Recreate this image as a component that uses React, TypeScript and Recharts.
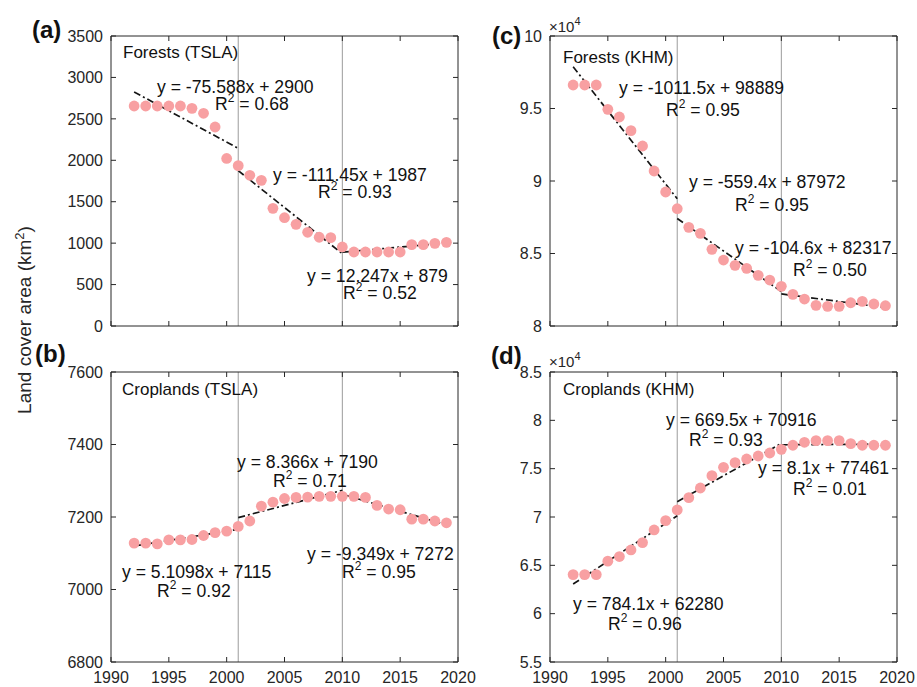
import React from 'react'
import { ComposedChart, Scatter, XAxis, YAxis, ReferenceLine } from 'recharts'

const years = [
  1992, 1993, 1994, 1995, 1996, 1997, 1998, 1999, 2000, 2001, 2002, 2003, 2004, 2005,
  2006, 2007, 2008, 2009, 2010, 2011, 2012, 2013, 2014, 2015, 2016, 2017, 2018, 2019,
]

// km2
const forestsTSLA = [
  2655, 2655, 2655, 2655, 2655, 2627, 2567, 2402, 2022, 1935, 1819, 1758, 1420, 1307,
  1227, 1131, 1071, 1066, 954, 893, 893, 893, 893, 893, 982, 982, 998, 1010,
]
const croplandsTSLA = [
  7128, 7128, 7126, 7137, 7137, 7138, 7149, 7157, 7161, 7174, 7189, 7230, 7241, 7251,
  7254, 7255, 7257, 7257, 7257, 7257, 7254, 7232, 7222, 7220, 7194, 7194, 7189, 7184,
]
const forestsKHM = [
  96620, 96620, 96620, 94944, 94414, 93470, 92413, 90690, 89240, 88090, 86805, 86390, 85287, 84550,
  84184, 83977, 83494, 83170, 82735, 82183, 81859, 81425, 81356, 81356, 81605, 81701, 81517, 81400,
]
const croplandsKHM = [
  64040, 64040, 64040, 65430, 65910, 66590, 67350, 68660, 69620, 70730, 72000, 73000, 74280, 75140,
  75620, 76000, 76310, 76620, 77000, 77420, 77730, 77900, 77900, 77900, 77590, 77420, 77420, 77420,
]

// piecewise fits, x = 1..10 inside each segment
const breakYears = [2001, 2010]
const segmentStarts = [1992, 2001, 2010]
const segmentEnds = [2001, 2010, 2019]

const slopesA = [-75.588, -111.45, 12.247]
const interceptsA = [2900, 1987, 879]
const r2A = ['0.68', '0.93', '0.52']
const slopesB = [5.1098, 8.366, -9.349]
const interceptsB = [7115, 7190, 7272]
const r2B = ['0.92', '0.71', '0.95']
const slopesC = [-1011.5, -559.4, -104.6]
const interceptsC = [98889, 87972, 82317]
const r2C = ['0.95', '0.95', '0.50']
const slopesD = [784.1, 669.5, 8.1]
const interceptsD = [62280, 70916, 77461]
const r2D = ['0.96', '0.93', '0.01']

const xDomain: [number, number] = [1990, 2020]
const xTicks = [1990, 1995, 2000, 2005, 2010, 2015, 2020]
const yTicksA = [0, 500, 1000, 1500, 2000, 2500, 3000, 3500]
const yTicksB = [6800, 7000, 7200, 7400, 7600]
const yTicksC = [80000, 85000, 90000, 95000, 100000]
const yTicksD = [55000, 60000, 65000, 70000, 75000, 80000, 85000]

const FONT = '"Liberation Sans", Arial, Helvetica, sans-serif'
const INK = '#262626'
const PINK = '#F8A0A2'
const PLOT_W = 347
const PLOT_H = 290
const TICK_PX = 5

function Dot(props: any) {
  const { cx, cy } = props
  if (cx == null || cy == null) return <g />
  return <circle cx={cx} cy={cy} r={5.4} fill={PINK} />
}

type PanelProps = {
  left: number
  top: number
  width: number
  height: number
  yWidth: number
  margin: { top: number; right: number; bottom: number; left: number }
  xHeight: number
  showX: boolean
  values: number[]
  yDomain: [number, number]
  yTicks: number[]
  slopes: number[]
  intercepts: number[]
  scale?: number
}

function Panel(p: PanelProps) {
  const rows = years.map((year, i) => ({ year, v: p.values[i] }))
  const fits = segmentStarts.map((s, i) => {
    const e = segmentEnds[i]
    return [
      { x: s, y: p.slopes[i] * 1 + p.intercepts[i] },
      { x: e, y: p.slopes[i] * (e - s + 1) + p.intercepts[i] },
    ]
  })
  const [y0, y1] = p.yDomain
  const [x0, x1] = xDomain
  // frame + inward ticks (matlab "box on")
  const dy = ((y1 - y0) * TICK_PX) / PLOT_H
  const dx = ((x1 - x0) * TICK_PX) / PLOT_W
  const frame = [
    [{ x: x0, y: y0 }, { x: x1, y: y0 }],
    [{ x: x0, y: y1 }, { x: x1, y: y1 }],
    [{ x: x0, y: y0 }, { x: x0, y: y1 }],
    [{ x: x1, y: y0 }, { x: x1, y: y1 }],
    ...xTicks.flatMap((t) => [
      [{ x: t, y: y0 }, { x: t, y: y0 + dy }],
      [{ x: t, y: y1 }, { x: t, y: y1 - dy }],
    ]),
    ...p.yTicks.flatMap((t) => [
      [{ x: x0, y: t }, { x: x0 + dx, y: t }],
      [{ x: x1, y: t }, { x: x1 - dx, y: t }],
    ]),
  ]
  const fmt = (v: number) => (p.scale ? String(v / p.scale) : String(v))
  const tickStyle = { fill: INK, fontSize: 16, fontFamily: FONT }

  return (
    <div style={{ position: 'absolute', left: p.left, top: p.top }}>
      <ComposedChart width={p.width} height={p.height} data={rows} margin={p.margin}>
        <XAxis
          xAxisId="b"
          dataKey="year"
          type="number"
          domain={xDomain}
          ticks={xTicks}
          interval={0}
          height={p.xHeight}
          tick={p.showX ? tickStyle : false}
          axisLine={false}
          tickLine={false}
          tickSize={0}
          tickMargin={10}
          allowDataOverflow
        />
        <YAxis
          yAxisId="l"
          type="number"
          domain={p.yDomain}
          ticks={p.yTicks}
          interval={0}
          width={p.yWidth}
          tick={tickStyle}
          tickFormatter={fmt}
          axisLine={false}
          tickLine={false}
          tickSize={0}
          tickMargin={8}
          allowDataOverflow
        />
        {breakYears.map((yr) => (
          <ReferenceLine key={yr} xAxisId="b" yAxisId="l" x={yr} stroke="#9c9c9c" strokeWidth={1} />
        ))}
        {frame.map((seg, i) => (
          <ReferenceLine key={`f${i}`} xAxisId="b" yAxisId="l" segment={seg} ifOverflow="visible"
            stroke={INK} strokeWidth={1} />
        ))}
        <Scatter xAxisId="b" yAxisId="l" dataKey="v" shape={Dot} isAnimationActive={false} />
        {fits.map((seg, i) => (
          <ReferenceLine
            key={i}
            xAxisId="b"
            yAxisId="l"
            segment={seg}
            stroke="#151515"
            strokeWidth={1.7}
            strokeDasharray="7 3 2 3"
          />
        ))}
      </ComposedChart>
    </div>
  )
}

function Eq({ x, y, m, b }: { x: number; y: number; m: number; b: number }) {
  return <text x={x} y={y}>{`y = ${m}x + ${b}`}</text>
}

function R2({ x, y, value }: { x: number; y: number; value: string }) {
  return (
    <text x={x} y={y}>
      R<tspan dy={-8} fontSize={12}>2</tspan>
      <tspan dy={8}>{` = ${value}`}</tspan>
    </text>
  )
}

export default function App() {
  const topMargin = { top: 36, right: 32, bottom: 19, left: 0 }
  const botMargin = { top: 27, right: 32, bottom: 0, left: 0 }
  const topMarginR = { top: 36, right: 20, bottom: 19, left: 0 }
  const botMarginR = { top: 27, right: 20, bottom: 0, left: 0 }

  return (
    <div style={{ position: 'absolute', left: 0, top: 0, width: 917, height: 687, background: '#fff', fontFamily: FONT }}>
      <Panel left={0} top={0} width={490} height={345} yWidth={111} margin={topMargin} xHeight={0} showX={false}
        values={forestsTSLA} yDomain={[0, 3500]} yTicks={yTicksA} slopes={slopesA} intercepts={interceptsA} />
      <Panel left={0} top={345} width={490} height={342} yWidth={111} margin={botMargin} xHeight={25} showX
        values={croplandsTSLA} yDomain={[6800, 7600]} yTicks={yTicksB} slopes={slopesB} intercepts={interceptsB} />
      <Panel left={470} top={0} width={447} height={345} yWidth={80} margin={topMarginR} xHeight={0} showX={false}
        values={forestsKHM} yDomain={[80000, 100000]} yTicks={yTicksC} slopes={slopesC} intercepts={interceptsC} scale={10000} />
      <Panel left={470} top={345} width={447} height={342} yWidth={80} margin={botMarginR} xHeight={25} showX
        values={croplandsKHM} yDomain={[55000, 85000]} yTicks={yTicksD} slopes={slopesD} intercepts={interceptsD} scale={10000} />

      <svg width={917} height={687} style={{ position: 'absolute', left: 0, top: 0, pointerEvents: 'none' }}
        fontFamily={FONT} fontSize={17.6} fill="#111">
        {/* panel letters */}
        <g fontWeight="bold" fontSize={24}>
          <text x={32} y={38}>(a)</text>
          <text x={35} y={362}>(b)</text>
          <text x={492} y={44}>(c)</text>
          <text x={491} y={364}>(d)</text>
        </g>

        {/* exponent labels */}
        <text x={549} y={32} fontSize={15} fill={INK}>
          ×10<tspan dy={-7} fontSize={11}>4</tspan>
        </text>
        <text x={549} y={367} fontSize={15} fill={INK}>
          ×10<tspan dy={-7} fontSize={11}>4</tspan>
        </text>

        {/* y title */}
        <text x={0} y={0} fontSize={19} fill={INK} textAnchor="middle" transform="translate(31 320) rotate(-90)">
          Land cover area (km<tspan dy={-7} fontSize={13}>2</tspan><tspan dy={7}>)</tspan>
        </text>

        {/* (a) */}
        <text x={123} y={58} fontSize={17}>Forests (TSLA)</text>
        <Eq x={157} y={93} m={slopesA[0]} b={interceptsA[0]} />
        <R2 x={215} y={110} value={r2A[0]} />
        <Eq x={273} y={181} m={slopesA[1]} b={interceptsA[1]} />
        <R2 x={318} y={198} value={r2A[1]} />
        <Eq x={307} y={282} m={slopesA[2]} b={interceptsA[2]} />
        <R2 x={343} y={299} value={r2A[2]} />

        {/* (b) */}
        <text x={122} y={395} fontSize={17}>Croplands (TSLA)</text>
        <Eq x={122} y={578} m={slopesB[0]} b={interceptsB[0]} />
        <R2 x={157} y={597} value={r2B[0]} />
        <Eq x={237} y={468} m={slopesB[1]} b={interceptsB[1]} />
        <R2 x={273} y={487} value={r2B[1]} />
        <Eq x={307} y={560} m={slopesB[2]} b={interceptsB[2]} />
        <R2 x={342} y={578} value={r2B[2]} />

        {/* (c) */}
        <text x={563} y={63} fontSize={17}>Forests (KHM)</text>
        <Eq x={619} y={94} m={slopesC[0]} b={interceptsC[0]} />
        <R2 x={666} y={116} value={r2C[0]} />
        <Eq x={689} y={188} m={slopesC[1]} b={interceptsC[1]} />
        <R2 x={735} y={211} value={r2C[1]} />
        <Eq x={735} y={254} m={slopesC[2]} b={interceptsC[2]} />
        <R2 x={793} y={276} value={r2C[2]} />

        {/* (d) */}
        <text x={563} y={395} fontSize={17}>Croplands (KHM)</text>
        <Eq x={573} y={610} m={slopesD[0]} b={interceptsD[0]} />
        <R2 x={608} y={630} value={r2D[0]} />
        <Eq x={666} y={426} m={slopesD[1]} b={interceptsD[1]} />
        <R2 x={689} y={446} value={r2D[1]} />
        <Eq x={758} y={474} m={slopesD[2]} b={interceptsD[2]} />
        <R2 x={793} y={495} value={r2D[2]} />
      </svg>
    </div>
  )
}
